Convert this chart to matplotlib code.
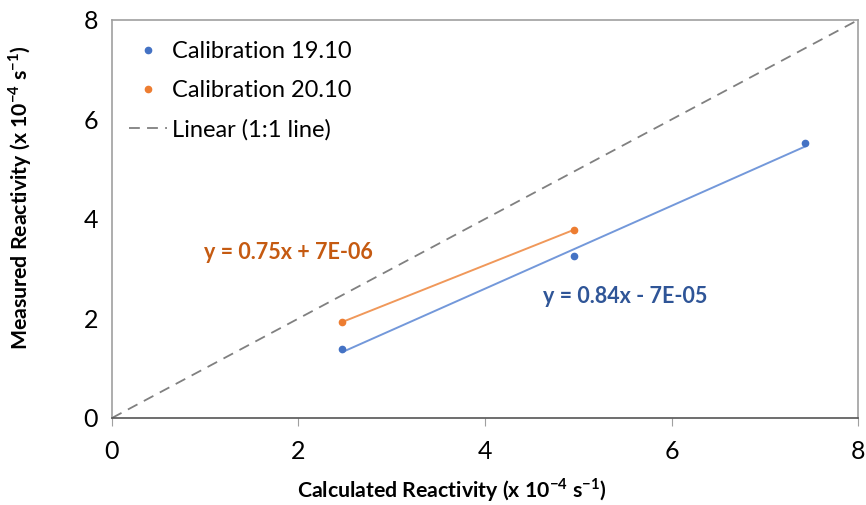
import numpy as np
import matplotlib.pyplot as plt
from matplotlib.lines import Line2D

plt.rcParams['font.family'] = ['Lato', 'DejaVu Sans']
plt.rcParams['mathtext.fontset'] = 'custom'
plt.rcParams['mathtext.rm'] = 'Lato'
plt.rcParams['mathtext.bf'] = 'Lato:bold'

# calculated vs measured reactivity (x 10^-4 s^-1)
calc_1910 = [2.47, 4.95, 7.43]
meas_1910 = [1.39, 3.26, 5.52]
calc_2010 = [2.47, 4.95]
meas_2010 = [1.93, 3.78]
one_to_one = [0, 8]

eq_1910 = "y = 0.84x - 7E-05"
eq_2010 = "y = 0.75x + 7E-06"

blue = "#4472C4"
orange = "#ED7D31"

fig = plt.figure(figsize=(8.66, 5.05), dpi=100)
ax = fig.add_axes([0.1293, 0.1723, 0.8615, 0.7881])

ax.plot(one_to_one, one_to_one, color="#808080", lw=1.3, dashes=(6, 4))

# trendlines over the data range
for xs, ys, c in [(calc_1910, meas_1910, "#7398DA"), (calc_2010, meas_2010, "#F0985A")]:
    k, b = np.polyfit(xs, ys, 1)
    xx = np.array([min(xs), max(xs)])
    ax.plot(xx, k * xx + b, color=c, lw=1.4)

ax.plot(calc_1910, meas_1910, "o", color=blue, ms=4.5, ls="none")
ax.plot(calc_2010, meas_2010, "o", color=orange, ms=4.5, ls="none")

ax.text(1.89, 3.32, eq_2010, color="#C55A11", fontsize=15.5, fontweight="bold",
        ha="center", va="center")
ax.text(5.5, 2.45, eq_1910, color="#2F5597", fontsize=15.5, fontweight="bold",
        ha="center", va="center")

ax.set_xlim(0, 8)
ax.set_ylim(0, 8)
ax.set_xticks(range(0, 9, 2))
ax.set_yticks(range(0, 9, 2))
ax.tick_params(axis="x", length=6, color="#A0A0A0", labelsize=18, pad=10)
ax.tick_params(axis="y", length=0, labelsize=18, pad=10)

for s in ["top", "right", "left"]:
    ax.spines[s].set_color("#A0A0A0")
    ax.spines[s].set_linewidth(1.2)
ax.spines["bottom"].set_color("#555555")
ax.spines["bottom"].set_linewidth(1.2)

ax.set_xlabel(r"Calculated Reactivity (x 10$^{\mathbf{-4}}$ s$^{\mathbf{-1}}$)",
              fontsize=15.3, fontweight="bold", va="center")
ax.set_ylabel(r"Measured Reactivity (x 10$^{\mathbf{-4}}$ s$^{\mathbf{-1}}$)",
              fontsize=15.3, fontweight="bold", va="center")
ax.xaxis.set_label_coords(0.456, -0.18)
ax.yaxis.set_label_coords(-0.123, 0.553)

handles = [
    Line2D([], [], marker="o", color=blue, ls="none", ms=4.5),
    Line2D([], [], marker="o", color=orange, ls="none", ms=4.5),
    Line2D([], [], color="#808080", lw=1.3, dashes=(6, 4)),
]
ax.legend(handles, ["Calibration 19.10", "Calibration 20.10", "Linear (1:1 line)"],
          loc="upper left", bbox_to_anchor=(-0.005, 1.0), frameon=False,
          fontsize=17, handlelength=1.6, handletextpad=0.2, labelspacing=0.75)

fig.savefig("out.png", dpi=100)
